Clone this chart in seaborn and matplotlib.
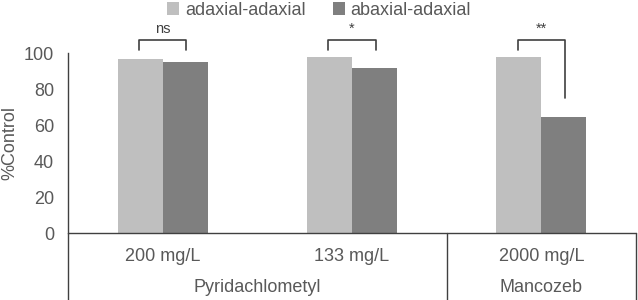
import matplotlib
matplotlib.use("Agg")
import matplotlib.pyplot as plt
import matplotlib.transforms as mtransforms
from matplotlib.patches import Patch
import pandas as pd
import seaborn as sns

# data
concentrations = ["200 mg/L", "133 mg/L", "2000 mg/L"]
fungicides = ["Pyridachlometyl", "Mancozeb"]
fungicide_span = [(-0.5, 1.5), (1.5, 2.5)]
series_names = ["adaxial-adaxial", "abaxial-adaxial"]
adaxial_values = [96.5, 97.6, 98.0]
abaxial_values = [95.0, 91.8, 64.3]
sig_labels = ["ns", "*", "**"]

df = pd.DataFrame({
    "conc": concentrations * 2,
    "type": [series_names[0]] * 3 + [series_names[1]] * 3,
    "value": adaxial_values + abaxial_values,
})

sns.set_style("white")
plt.rcParams["font.family"] = ["Liberation Sans", "DejaVu Sans"]
text_color = "#595959"
line_color = "#404040"
colors = ["#bfbfbf", "#7f7f7f"]
fs = 13

fig = plt.figure(figsize=(6.38, 3.0), dpi=100)
ax = fig.add_axes([0.1066, 0.2233, 0.8904, 0.6])

sns.barplot(data=df, x="conc", y="value", hue="type", palette=colors,
            width=0.475, saturation=1, linewidth=0, ax=ax, legend=False)

ax.set_xlim(-0.5, 2.5)
ax.set_ylim(0, 100)
ax.set_yticks([0, 20, 40, 60, 80, 100])
ax.tick_params(axis="y", length=0, labelsize=fs, labelcolor=text_color, pad=10)
ax.set_xticks([])
ax.set_xlabel("")
ax.set_ylabel("")
fig.text(10 / 638, 1 - 143 / 300, "%Control", rotation=90, ha="center",
         va="center", fontsize=fs, color=text_color)
for side in ["top", "right", "bottom"]:
    ax.spines[side].set_visible(False)
ax.spines["left"].set_color(line_color)
ax.spines["left"].set_linewidth(1)

# category axis with two label levels
trans = mtransforms.blended_transform_factory(ax.transData, ax.transAxes)
bottom = -0.372
ax.plot([-0.5, 2.5], [0, 0], transform=trans, color=line_color, lw=1, clip_on=False)
for x in [-0.5, 1.5, 2.5]:
    ax.plot([x, x], [0, bottom], transform=trans, color=line_color, lw=1, clip_on=False)
for i, c in enumerate(concentrations):
    ax.text(i, -0.128, c, transform=trans, ha="center", va="center",
            fontsize=fs, color=text_color)
for name, (a, b) in zip(fungicides, fungicide_span):
    ax.text((a + b) / 2, -0.305, name, transform=trans, ha="center", va="center",
            fontsize=fs, color=text_color)

# significance brackets
for i, lab in enumerate(sig_labels):
    x0, x1 = i - 0.125, i + 0.125
    top = 107.2
    left_end = 101.7
    right_end = 101.7 if abaxial_values[i] > 80 else 74.8
    ax.plot([x0, x0, x1, x1], [left_end, top, top, right_end],
            color=line_color, lw=1.2, clip_on=False)
    ax.text(i, top + 2.5, lab, ha="center", va="bottom", fontsize=10.5,
            color=line_color)

handles = [Patch(facecolor=c, edgecolor="none") for c in colors]
fig.legend(handles, series_names, loc="center", bbox_to_anchor=(0.5, 0.965),
           ncol=2, frameon=False, fontsize=fs, labelcolor=text_color,
           handlelength=0.7, handleheight=0.7, handletextpad=0.3,
           columnspacing=1.5, borderaxespad=0)

fig.savefig("out.png", dpi=100)
